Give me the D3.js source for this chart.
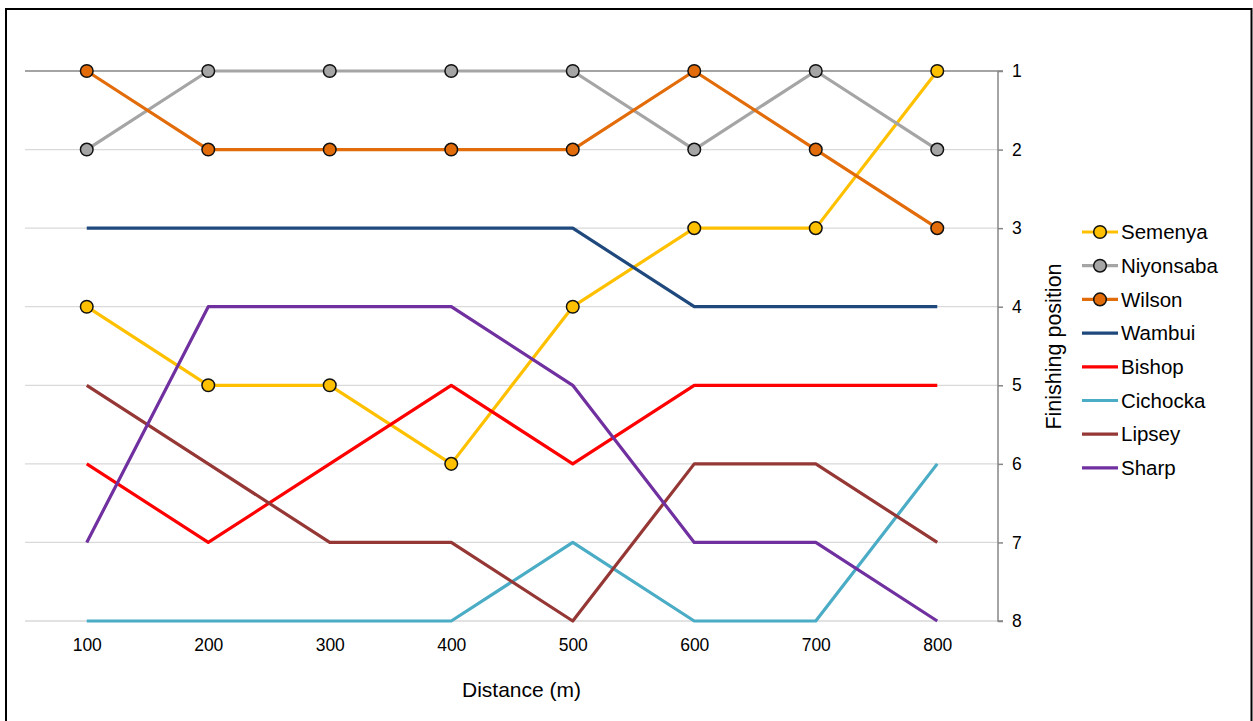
<!DOCTYPE html>
<html>
<head>
<meta charset="utf-8">
<script src="https://cdn.jsdelivr.net/npm/d3@7"></script>
<style>
  html, body { margin: 0; padding: 0; background: #fff; }
  svg { display: block; font-family: "Liberation Sans", Arial, sans-serif; }
</style>
</head>
<body>
<svg id="chart" width="1253" height="721"></svg>
<script>
// Split distances (m)
const distances = ["100", "200", "300", "400", "500", "600", "700", "800"];
// Position held at each split
const semenya   = [4, 5, 5, 6, 4, 3, 3, 1];
const niyonsaba = [2, 1, 1, 1, 1, 2, 1, 2];
const wilson    = [1, 2, 2, 2, 2, 1, 2, 3];
const wambui    = [3, 3, 3, 3, 3, 4, 4, 4];
const bishop    = [6, 7, 6, 5, 6, 5, 5, 5];
const cichocka  = [8, 8, 8, 8, 7, 8, 8, 6];
const lipsey    = [5, 6, 7, 7, 8, 6, 6, 7];
const sharp     = [7, 4, 4, 4, 5, 7, 7, 8];
const positionTicks = [1, 2, 3, 4, 5, 6, 7, 8];

const runners = [
  { name: "Semenya",   values: semenya,   color: "#FFC000", marker: true },
  { name: "Niyonsaba", values: niyonsaba, color: "#A5A5A5", marker: true },
  { name: "Wilson",    values: wilson,    color: "#E36C0A", marker: true },
  { name: "Wambui",    values: wambui,    color: "#1F497D", marker: false },
  { name: "Bishop",    values: bishop,    color: "#FF0000", marker: false },
  { name: "Cichocka",  values: cichocka,  color: "#4BACC6", marker: false },
  { name: "Lipsey",    values: lipsey,    color: "#953735", marker: false },
  { name: "Sharp",     values: sharp,     color: "#7030A0", marker: false }
];

const FONT = "Liberation Sans, Arial, sans-serif";
const svg = d3.select("#chart");

// Outer frame
svg.append("rect")
  .attr("x", 6).attr("y", 9)
  .attr("width", 1245.5).attr("height", 720)
  .attr("fill", "none").attr("stroke", "#000").attr("stroke-width", 2);

const plot = { left: 26, right: 998, top: 71, bottom: 621 };

const x = d3.scalePoint()
  .domain(distances)
  .range([plot.left, plot.right])
  .padding(0.5);

const y = d3.scaleLinear()
  .domain([1, 8])
  .range([plot.top, plot.bottom]);

// Horizontal gridlines
svg.append("g")
  .selectAll("line")
  .data(positionTicks.filter(d => d !== 1))
  .join("line")
  .attr("x1", plot.left - 1).attr("x2", plot.right)
  .attr("y1", d => y(d)).attr("y2", d => y(d))
  .attr("stroke", "#D9D9D9").attr("stroke-width", 1.3);

// Category axis line (sits at position 1 because the scale is reversed)
svg.append("line")
  .attr("x1", plot.left - 1).attr("x2", plot.right)
  .attr("y1", y(1)).attr("y2", y(1))
  .attr("stroke", "#868686").attr("stroke-width", 1.5);

// Right-hand value axis
const yAxis = d3.axisRight(y)
  .tickValues(positionTicks)
  .tickFormat(d3.format("d"))
  .tickSize(5)
  .tickPadding(9);

const yAxisG = svg.append("g")
  .attr("transform", `translate(${plot.right},0)`)
  .call(yAxis);
yAxisG.select(".domain").attr("stroke", "#868686").attr("stroke-width", 1.5)
  .attr("d", `M0,${y(1)}V${y(8)}H5M0,${y(1)}H5`);
yAxisG.selectAll(".tick line").attr("stroke", "#868686").attr("stroke-width", 1.5);
yAxisG.selectAll(".tick text")
  .attr("fill", "#000").attr("font-size", 17.5)
  .attr("font-family", FONT);

// Distance labels under the plot
const xAxis = d3.axisBottom(x).tickSize(0).tickPadding(0);
const xAxisG = svg.append("g")
  .attr("transform", `translate(0,${plot.bottom + 18})`)
  .call(xAxis);
xAxisG.select(".domain").remove();
xAxisG.selectAll(".tick text")
  .attr("fill", "#000").attr("font-size", 17.5)
  .attr("font-family", FONT);

// Axis titles
svg.append("text")
  .attr("x", 521.5).attr("y", 697)
  .attr("text-anchor", "middle")
  .attr("font-size", 21).attr("fill", "#000")
  .text("Distance (m)");

svg.append("text")
  .attr("transform", "translate(1061,346.5) rotate(-90)")
  .attr("text-anchor", "middle")
  .attr("font-size", 21.5).attr("fill", "#000")
  .text("Finishing position");

// Series
const line = d3.line()
  .x((d, i) => x(distances[i]))
  .y(d => y(d));

const seriesG = svg.append("g");
runners.forEach(r => {
  const g = seriesG.append("g");
  g.append("path")
    .attr("d", line(r.values))
    .attr("fill", "none")
    .attr("stroke", r.color)
    .attr("stroke-width", 3.2)
    .attr("stroke-linejoin", "round");
  if (r.marker) {
    g.selectAll("circle")
      .data(r.values)
      .join("circle")
      .attr("cx", (d, i) => x(distances[i]))
      .attr("cy", d => y(d))
      .attr("r", 6.3)
      .attr("fill", r.color)
      .attr("stroke", "#111")
      .attr("stroke-width", 1.5);
  }
});

// Legend
const legend = svg.append("g");
runners.forEach((r, i) => {
  const cy = 232 + i * 33.7;
  const item = legend.append("g");
  item.append("line")
    .attr("x1", 1082).attr("x2", 1118)
    .attr("y1", cy).attr("y2", cy)
    .attr("stroke", r.color).attr("stroke-width", 3.2);
  if (r.marker) {
    item.append("circle")
      .attr("cx", 1100).attr("cy", cy).attr("r", 6.3)
      .attr("fill", r.color).attr("stroke", "#111").attr("stroke-width", 1.5);
  }
  item.append("text")
    .attr("x", 1121).attr("y", cy)
    .attr("dy", "0.35em")
    .attr("font-size", 20.5).attr("fill", "#000")
    .text(r.name);
});
</script>
</body>
</html>
